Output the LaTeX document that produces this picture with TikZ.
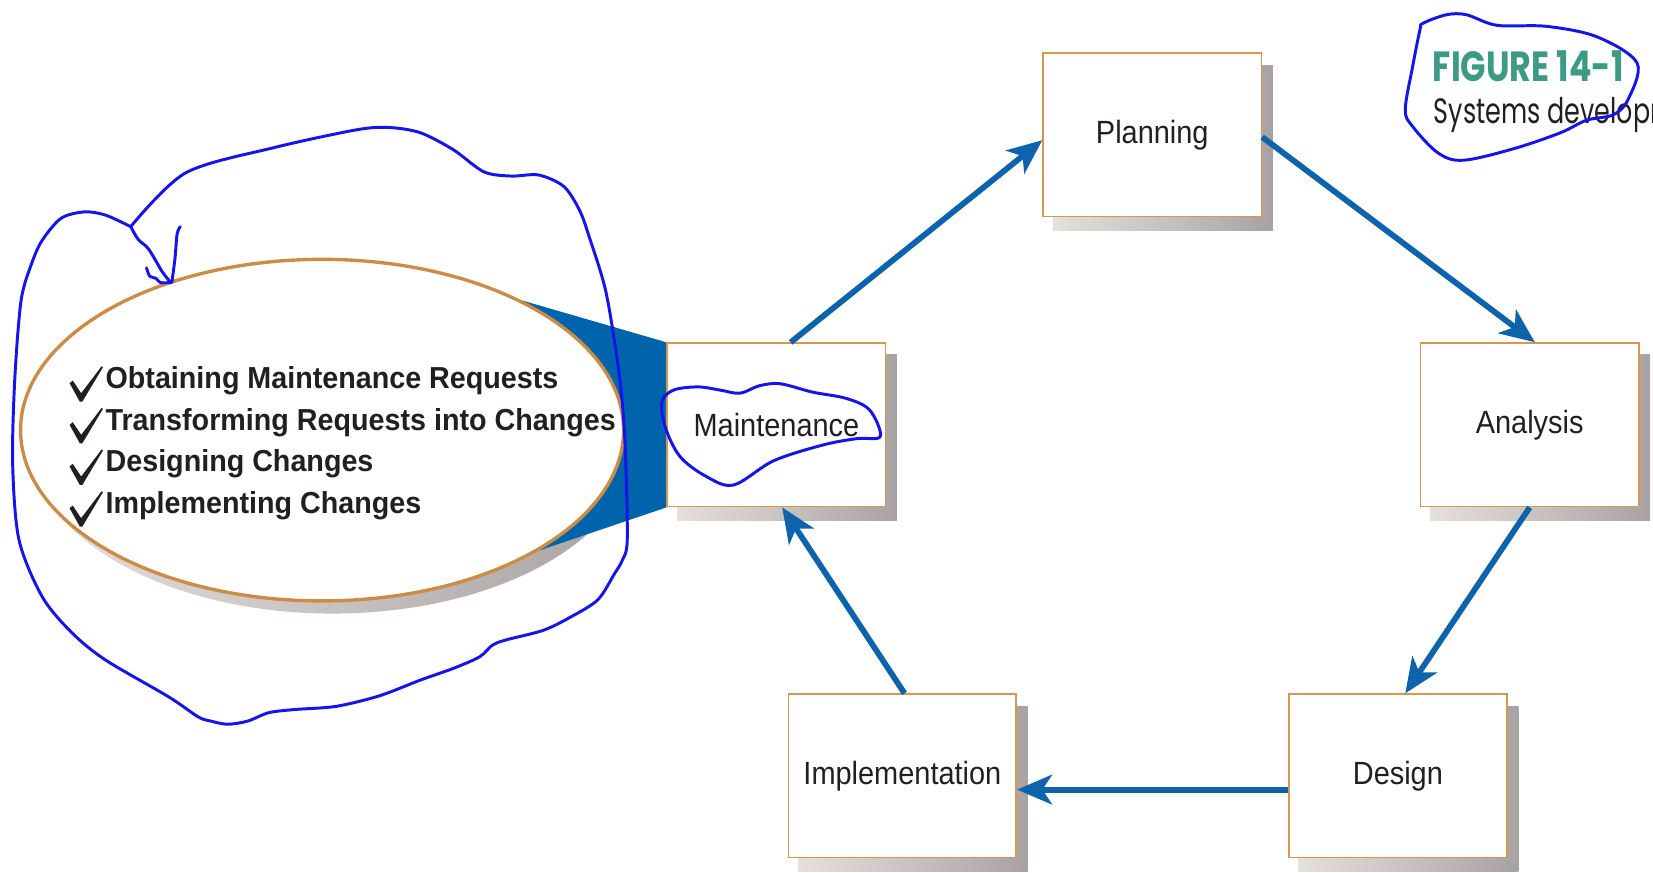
\documentclass[tikz,border=0pt]{standalone}
\usepackage{graphicx}
\usepackage{fontspec}
\setmainfont{Liberation Sans}
\newfontfamily\figfont{Poppins}
\usetikzlibrary{arrows.meta,shapes.geometric,backgrounds}

\definecolor{boxline}{RGB}{217,150,80}
\definecolor{ovalline}{RGB}{205,140,70}
\definecolor{flowblue}{RGB}{14,99,173}
\definecolor{funnelblue}{RGB}{0,100,172}
\definecolor{penblue}{RGB}{20,20,235}
\definecolor{figgreen}{RGB}{61,154,132}
\definecolor{textdark}{RGB}{35,31,32}
\definecolor{shadowlight}{RGB}{230,224,220}
\definecolor{shadowdark}{RGB}{168,162,163}

\begin{document}
\begin{tikzpicture}[x=1pt,y=-1pt,
  stagebox/.style={draw=boxline, line width=1.6pt, fill=white,
    minimum width=207pt, minimum height=155pt, inner sep=0pt,
    text=textdark, font=\fontsize{30.5}{36}\selectfont},
  flow/.style={draw=flowblue, line width=5.5pt,
    -{Stealth[length=33pt,width=28pt,inset=9pt]}},
  taskline/.style={anchor=base west, inner sep=0pt, text=textdark,
    font=\fontsize{28.8}{34}\selectfont\bfseries},
  scribble/.style={draw=penblue, line width=2.8pt, line cap=round, line join=round},
  checkmark/.pic={\fill[textdark] (-10.5,-17) -- (-7.5,-19.5) -- (0.5,-7.5)
      -- (19.8,-33) -- (21.2,-32.2) -- (1.6,0.5) -- (-0.8,0.5) -- cycle;}
]
\useasboundingbox (0,0) rectangle (1568,828);

% the maintenance task list
\node[ellipse, draw=ovalline, line width=3.2pt, fill=white, inner sep=0pt,
      minimum width=572pt, minimum height=324pt] (tasks) at (305.5,408) {};
\node[taskline] (t1) at (100,368.5) {\scalebox{0.945}[1]{Obtaining Maintenance Requests}};
\node[taskline] (t2) at (100,408)   {\scalebox{0.945}[1]{Transforming Requests into Changes}};
\node[taskline] (t3) at (100,447.5) {\scalebox{0.945}[1]{Designing Changes}};
\node[taskline] (t4) at (100,487)   {\scalebox{0.945}[1]{Implementing Changes}};
\foreach \b in {368.5,408,447.5,487}
  \pic at (76.5,\b+12) {checkmark};

% life-cycle phases
\node[stagebox] (plan)   at (1093,128)  {\scalebox{0.9}[1]{Planning}};
\node[stagebox] (maint)  at (736.5,403) {\scalebox{0.9}[1]{Maintenance}};
\node[stagebox] (ana)    at (1451,403)  {\scalebox{0.9}[1]{Analysis}};
\node[stagebox] (design) at (1326,736)  {\scalebox{0.9}[1]{Design}};
\node[stagebox, minimum width=216pt] (impl) at (856,736) {\scalebox{0.9}[1]{Implementation}};

% shadows and the funnel behind the shapes
\begin{pgfonlayer}{background}
  \fill[white] (0,0) rectangle (1568,828);
  \shade[left color=shadowlight, right color=shadowdark]
      ([xshift=10pt,yshift=-12pt]tasks.center) ellipse [x radius=286pt, y radius=162pt];
  \fill[funnelblue] (maint.north west) -- (tasks.33) -- (tasks.center)
      -- (tasks.-29.5) -- (maint.south west) -- cycle;
  \foreach \n in {plan,maint,ana,design,impl}
    \shade[left color=shadowlight, right color=shadowdark]
      ([xshift=10pt,yshift=-12pt]\n.south west) rectangle ([xshift=10pt,yshift=-12pt]\n.north east);
\end{pgfonlayer}

% cycle arrows
\draw[flow] ([xshift=13.5pt]maint.north) -- ([yshift=-5pt]plan.west);
\draw[flow] ([yshift=-2pt]plan.east) -- ([xshift=5pt]ana.north);
\draw[flow] (ana.south) -- ([xshift=7pt]design.north);
\draw[flow] ([yshift=-13pt]design.west) -- ([yshift=-13pt]impl.east);
\draw[flow] ([xshift=2pt]impl.north) -- ([xshift=5.5pt]maint.south);

\begin{scope}
\clip (0,0) rectangle (1568,828);
% caption
\node[anchor=base west, inner sep=0pt, text=figgreen,
      font=\figfont\bfseries\fontsize{40}{44}\selectfont] (figno) at (1359,77)
      {\scalebox{0.79}[1]{FIGURE 14-1}};
\node[anchor=base west, inner sep=0pt, text=textdark,
      font=\figfont\fontsize{33.5}{38}\selectfont] (figtitle) at (1360,117)
      {\scalebox{0.72}[1]{Systems development}};

% pen annotations
\draw[scribble] plot[smooth, tension=0.5] coordinates {
  (124,215) (176,164) (260,140) (339,123) (370,121) (399,126) (430,142)
  (459,163) (485,167) (511,166) (535,177) (550,200) (559,225) (575,278)
  (588,360) (593,424) (595,512) (590,532) (583,544) (567,569) (540,586)
  (515,598) (480,607) (467,612) (455,623) (430,634) (399,645) (360,660)
  (319,670) (280,673) (255,676) (235,684) (216,687) (200,684) (188,680)
  (160,661) (100,626) (68,600) (40,566) (18,512) (12,440) (14,360)
  (20,285) (30,250) (40,228) (58,207) (80,201) (100,204) (124,215)};
\draw[scribble] plot[smooth, tension=0.5] coordinates {
  (124,215) (131,227) (140,235) (147,246) (154,258) (162,268)};
\draw[scribble] plot[smooth, tension=0.5] coordinates {
  (171,215) (168,222) (166,245) (163,268)};
\draw[scribble] plot[smooth, tension=0.5] coordinates {
  (139,254) (142,262) (148,264) (152,268) (162,268)};
\draw[scribble] plot[smooth cycle, tension=0.55] coordinates {
  (639,370) (662,367) (683,370) (702,373) (720,366) (740,364) (771,372)
  (803,378) (825,389) (835,414) (813,416) (781,422) (734,437) (696,460)
  (670,452) (645,433) (631,405) (628,381)};
\draw[scribble] plot[smooth cycle, tension=0.55] coordinates {
  (1350,22) (1372,14) (1391,14) (1420,24) (1467,25) (1515,35) (1553,60)
  (1544,95) (1530,109) (1505,114) (1480,126) (1436,141) (1388,152)
  (1364,145) (1340,120) (1333,104) (1340,63) (1347,28)};
\end{scope}
\end{tikzpicture}
\end{document}
